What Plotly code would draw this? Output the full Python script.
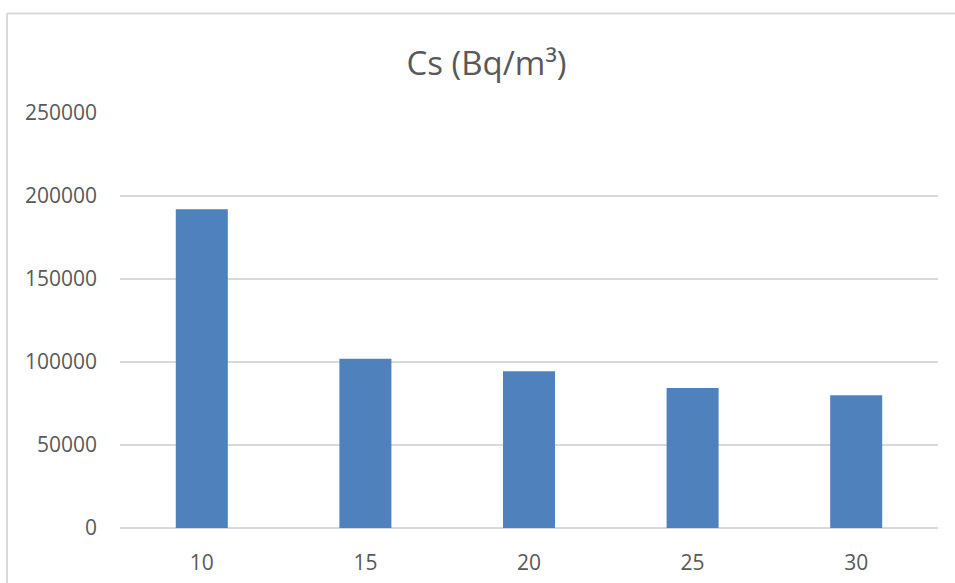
import plotly.graph_objects as go

categories = ["10", "15", "20", "25", "30"]
values = [192000, 102000, 94500, 84300, 80000]
y_ticks = [0, 50000, 100000, 150000, 200000, 250000]
title_text = "Cs (Bq/m³)"

W, H = 955, 583
ml, mr, mt, mb = 120, 17, 112, 55
pw = W - ml - mr
ph = H - mt - mb

fig = go.Figure()
fig.add_trace(go.Bar(
    x=categories, y=values,
    marker=dict(color="#4F81BD", line=dict(width=0)),
    width=0.318,
    hoverinfo="x+y",
))

# outer chart border (left and top edges visible)
bx = (7 - ml) / pw
by = 1 + (mt - 13.5) / ph
fig.add_shape(type="line", xref="paper", yref="paper", x0=bx, x1=bx, y0=-1, y1=by,
              line=dict(color="#d9d9d9", width=2))
fig.add_shape(type="line", xref="paper", yref="paper", x0=bx, x1=1.5, y0=by, y1=by,
              line=dict(color="#d9d9d9", width=2))

fig.update_layout(
    width=W, height=H,
    margin=dict(l=ml, r=mr, t=mt, b=mb, pad=0, autoexpand=False),
    paper_bgcolor="white", plot_bgcolor="white",
    font=dict(family="Open Sans", color="#595959"),
    title=dict(text=title_text, font=dict(size=33, color="#595959", family="Open Sans"),
               x=486.5 / W, xanchor="center", xref="container",
               y=1 - 52 / H, yanchor="top", yref="container", automargin=False),
    showlegend=False,
    bargap=0.682,
)
fig.update_xaxes(
    type="category", showgrid=False, showline=False, zeroline=False, automargin=False,
    tickfont=dict(size=21, color="#595959"), ticks="", ticklabelstandoff=20,
)
fig.update_yaxes(
    range=[0, 250600], tickvals=y_ticks, ticktext=[str(v) for v in y_ticks],
    showgrid=True, gridcolor="#d9d9d9", gridwidth=1.5, automargin=False,
    zeroline=True, zerolinecolor="#d9d9d9", zerolinewidth=1.5,
    showline=False, tickfont=dict(size=21, color="#595959"), ticks="",
    ticklabelstandoff=22,
)

fig.write_html("out.html", config={"displayModeBar": False},
               post_script="document.body.style.margin='0';document.body.style.overflow='hidden';")
